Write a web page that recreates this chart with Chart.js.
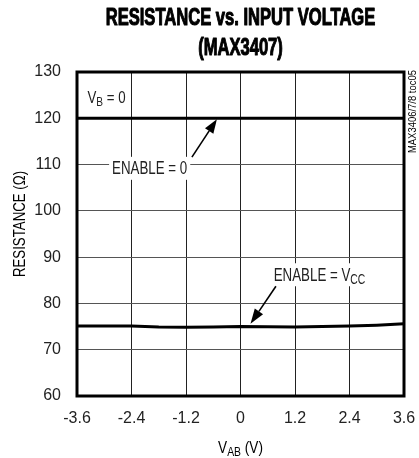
<!DOCTYPE html>
<html>
<head>
<meta charset="utf-8">
<script src="https://cdn.jsdelivr.net/npm/chart.js@4"></script>
<style>
  html, body { margin: 0; padding: 0; background: #fff; }
  #wrap { width: 419px; height: 458px; }
</style>
</head>
<body>
<div id="wrap"><canvas id="resChart" width="419" height="458"></canvas></div>
<script>
// Values
const voltage = [-3.6, -3.0, -2.4, -1.8, -1.2, -0.6, 0, 0.6, 1.2, 1.8, 2.4, 3.0, 3.6];
const resEnableLow = [120, 120, 120, 120, 120, 120, 120, 120, 120, 120, 120, 120, 120];
const resEnableVcc = [75.1, 75.1, 75.1, 74.9, 74.85, 74.9, 75.0, 74.95, 74.9, 75.0, 75.1, 75.3, 75.6];
const xTicks = [-3.6, -2.4, -1.2, 0, 1.2, 2.4, 3.6];
const xTickLabels = ["-3.6", "-2.4", "-1.2", "0", "1.2", "2.4", "3.6"];
const yTicks = [60, 70, 80, 90, 100, 110, 120, 130];
const titleLines = ["RESISTANCE vs. INPUT VOLTAGE", "(MAX3407)"];

const FONT = "'Liberation Sans', Arial, sans-serif";

// Text made of plain and subscript parts, squeezed horizontally by sx
function drawParts(ctx, parts, x, y, size, align, sx) {
    const subSize = Math.round(size * 0.78);
    let width = 0;
    parts.forEach(p => {
        ctx.font = (p.sub ? subSize : size) + "px " + FONT;
        p.w = ctx.measureText(p.t).width;
        width += p.w;
    });
    ctx.save();
    ctx.translate(x, y);
    ctx.scale(sx, 1);
    let cx = align === "center" ? -width / 2 : 0;
    ctx.textAlign = "left";
    ctx.textBaseline = "alphabetic";
    parts.forEach(p => {
        ctx.font = (p.sub ? subSize : size) + "px " + FONT;
        ctx.fillText(p.t, cx, p.sub ? 3 : 0);
        cx += p.w;
    });
    ctx.restore();
    return width * sx;
}

function drawArrow(ctx, x1, y1, x2, y2, len, half) {
    const ang = Math.atan2(y2 - y1, x2 - x1);
    const bx = x2 - Math.cos(ang) * len;
    const by = y2 - Math.sin(ang) * len;
    ctx.beginPath();
    ctx.moveTo(x1, y1);
    ctx.lineTo(bx, by);
    ctx.lineWidth = 1.6;
    ctx.strokeStyle = "#000";
    ctx.stroke();
    ctx.beginPath();
    ctx.moveTo(x2, y2);
    ctx.lineTo(bx + Math.sin(ang) * half, by - Math.cos(ang) * half);
    ctx.lineTo(bx - Math.sin(ang) * half, by + Math.cos(ang) * half);
    ctx.closePath();
    ctx.fillStyle = "#000";
    ctx.fill();
}

const decorations = {
    id: "decorations",
    afterDraw(chart) {
        const { ctx, chartArea: a, scales: { x, y } } = chart;
        const midX = (a.left + a.right) / 2;
        ctx.save();

        // heavy frame
        ctx.lineWidth = 3;
        ctx.strokeStyle = "#000";
        ctx.strokeRect(a.left, a.top, a.right - a.left, a.bottom - a.top);

        // title, condensed black look (fill + thin stroke for weight)
        ctx.fillStyle = "#000";
        ctx.strokeStyle = "#000";
        ctx.save();
        ctx.font = "bold 24px " + FONT;
        ctx.textAlign = "center";
        ctx.textBaseline = "alphabetic";
        ctx.translate(midX, 0);
        ctx.scale(0.69, 1);
        ctx.lineWidth = 1.1;
        ctx.lineJoin = "round";
        titleLines.forEach((t, i) => {
            ctx.fillText(t, 0, 25 + i * 30);
            ctx.strokeText(t, 0, 25 + i * 30);
        });
        ctx.restore();

        ctx.fillStyle = "#222";

        // V_B = 0
        drawParts(ctx, [{ t: "V" }, { t: "B", sub: true }, { t: " = 0" }],
            x.getPixelForValue(-3.37), y.getPixelForValue(123.3), 17, "left", 0.78);

        // ENABLE = 0 label with white knockout
        let px = x.getPixelForValue(-2.0), py = y.getPixelForValue(109.3);
        ctx.font = "18px " + FONT;
        let w = ctx.measureText("ENABLE = 0").width * 0.74;
        ctx.fillStyle = "#fff";
        ctx.fillRect(px - w / 2 - 3, py - 11, w + 6, 23);
        ctx.fillStyle = "#222";
        drawParts(ctx, [{ t: "ENABLE = 0" }], px, py + 6.5, 18, "center", 0.74);
        drawArrow(ctx, x.getPixelForValue(-1.07), y.getPixelForValue(111.6),
            x.getPixelForValue(-0.52), y.getPixelForValue(119.8), 14, 5);

        // ENABLE = VCC label
        px = x.getPixelForValue(1.74);
        py = y.getPixelForValue(86.3);
        ctx.font = "18px " + FONT;
        w = ctx.measureText("ENABLE = VCC").width * 0.74;
        ctx.fillStyle = "#fff";
        ctx.fillRect(px - w / 2 - 4, py - 11, w + 8, 23);
        ctx.fillStyle = "#222";
        drawParts(ctx, [{ t: "ENABLE = V" }, { t: "CC", sub: true }], px, py + 6.5, 18, "center", 0.74);
        drawArrow(ctx, x.getPixelForValue(0.78), y.getPixelForValue(83.7),
            x.getPixelForValue(0.22), y.getPixelForValue(75.6), 15, 5);

        // axis titles
        drawParts(ctx, [{ t: "V" }, { t: "AB", sub: true }, { t: " (V)" }],
            midX, 453, 17, "center", 0.8);

        ctx.save();
        ctx.translate(19, 224);
        ctx.rotate(-Math.PI / 2);
        drawParts(ctx, [{ t: "RESISTANCE (\u03A9)" }], 0, 6, 17, "center", 0.78);
        ctx.restore();

        // figure code on the right edge
        ctx.save();
        ctx.translate(412, 70);
        ctx.rotate(-Math.PI / 2);
        ctx.font = "11px " + FONT;
        const cw = ctx.measureText("MAX3406/7/8 toc05").width * 0.86;
        drawParts(ctx, [{ t: "MAX3406/7/8 toc05" }], -cw, 4, 11, "left", 0.86);
        ctx.restore();

        ctx.restore();
    }
};

new Chart(document.getElementById("resChart"), {
    type: "line",
    data: {
        datasets: [
            {
                label: "ENABLE = 0",
                data: voltage.map((v, i) => ({ x: v, y: resEnableLow[i] })),
                borderColor: "#000",
                borderWidth: 3,
                pointRadius: 0,
                fill: false
            },
            {
                label: "ENABLE = VCC",
                data: voltage.map((v, i) => ({ x: v, y: resEnableVcc[i] })),
                borderColor: "#000",
                borderWidth: 3,
                pointRadius: 0,
                fill: false
            }
        ]
    },
    options: {
        responsive: false,
        animation: false,
        layout: { padding: { left: 0, right: 15, top: 72, bottom: 0 } },
        plugins: {
            legend: { display: false },
            tooltip: { enabled: false }
        },
        scales: {
            x: {
                type: "linear",
                min: -3.6,
                max: 3.6,
                afterFit: s => { s.height = 62; s.paddingLeft = 0; s.paddingRight = 0; },
                afterBuildTicks: s => { s.ticks = xTicks.map(v => ({ value: v })); },
                ticks: {
                    callback: (v, i) => xTickLabels[i],
                    color: "#222",
                    padding: 13,
                    maxRotation: 0,
                    font: { family: FONT, size: 16 }
                },
                grid: { color: "#222", lineWidth: 1, drawTicks: false },
                border: { display: false }
            },
            y: {
                min: 60,
                max: 130,
                afterFit: s => { s.width = 77; s.paddingTop = 0; s.paddingBottom = 0; },
                afterBuildTicks: s => { s.ticks = yTicks.map(v => ({ value: v })); },
                ticks: {
                    color: "#222",
                    padding: 16,
                    font: { family: FONT, size: 16 }
                },
                grid: { color: "#555", lineWidth: 1, drawTicks: false },
                border: { display: false }
            }
        }
    },
    plugins: [decorations]
});
</script>
</body>
</html>
